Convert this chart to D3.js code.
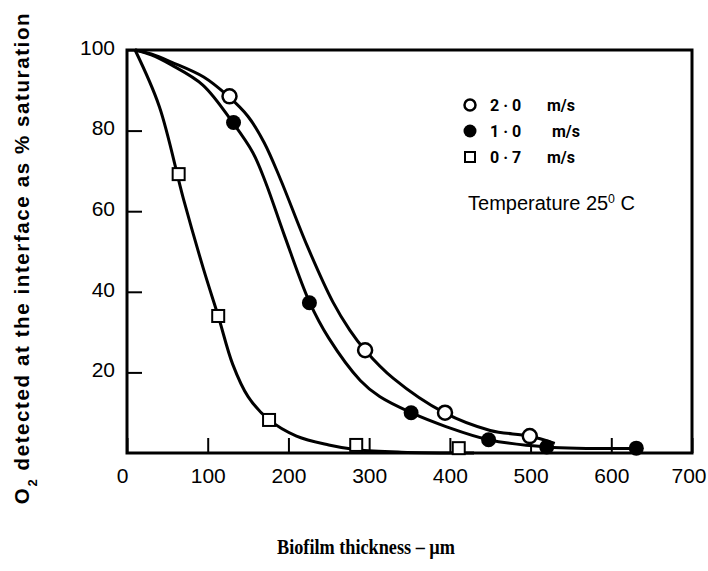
<!DOCTYPE html>
<html>
<head>
<meta charset="utf-8">
<script src="https://cdn.jsdelivr.net/npm/d3@7"></script>
<style>
  body { margin: 0; background: #fff; }
</style>
</head>
<body>
<div id="chart"></div>
<script>
// tick labels
const xTicks = [0, 100, 200, 300, 400, 500, 600, 700];
const yTicks = [20, 40, 60, 80, 100];
const speedLabels = ["2 · 0", "1 · 0", "0 · 7"];

// measured points [thickness µm, % saturation]
const pts20 = [[127, 88.5], [295, 25.5], [394, 10], [499, 4.2]];
const pts10 = [[132, 82], [226, 37.3], [352, 10], [448, 3.3], [520, 1.5], [631, 1.2]];
const pts07 = [[64, 69.2], [113, 34], [176, 8.2], [284, 2], [411, 1.2]];

// hand-drawn fitted curves
const fit20 = [[10, 100], [30, 99], [55, 97], [95, 93.3], [125, 88.6], [150, 83.5], [170, 77], [190, 68],
  [223, 51.5], [255, 37.5], [276, 30.5], [295, 25.5], [330, 18.5], [393, 10], [450, 5.6], [498, 4.2], [530, 2.4]];
const fit10 = [[10, 100], [30, 98.8], [55, 96.3], [94, 91.3], [131, 82], [156, 74.5], [172, 67], [195, 54],
  [226, 37.5], [250, 28.5], [289, 18], [313, 14], [352, 10], [396, 6.5], [448, 3.3], [520, 1.5], [631, 1.1]];
const fit07 = [[10, 100], [40, 86], [70, 63], [95, 45.5], [113, 34], [131, 22], [150, 14], [175, 8.4],
  [210, 4.2], [250, 2], [285, 0.8], [340, 0.2], [430, 0]];

const W = 708, H = 571;
const svg = d3.select("#chart").append("svg")
  .attr("width", W).attr("height", H)
  .style("font-family", "Roboto, 'Liberation Sans', sans-serif");

const x = d3.scaleLinear().domain([0, 700]).range([127, 692]);
const y = d3.scaleLinear().domain([0, 100]).range([453, 50]);

// frame
svg.append("rect")
  .attr("x", x(0)).attr("y", y(100))
  .attr("width", x(700) - x(0)).attr("height", y(0) - y(100))
  .attr("fill", "none").attr("stroke", "#000").attr("stroke-width", 3);

// y axis, ticks point inward
const yAxis = svg.append("g")
  .attr("transform", `translate(${x(0)},0)`)
  .call(d3.axisLeft(y).tickValues(yTicks).tickSizeInner(-15).tickSizeOuter(0).tickPadding(12));
yAxis.select(".domain").remove();
yAxis.selectAll(".tick line").attr("stroke-width", 2);
yAxis.selectAll(".tick text")
  .attr("font-size", 21).attr("font-weight", 500).attr("font-family", null)
  .attr("fill", "#000").attr("dy", "0.2em");

// x axis, ticks point upward
const xAxis = svg.append("g")
  .attr("transform", `translate(0,${y(0)})`)
  .call(d3.axisBottom(x).tickValues(xTicks).tickSizeInner(-15).tickSizeOuter(0).tickPadding(15));
xAxis.select(".domain").remove();
xAxis.selectAll(".tick line").attr("stroke-width", 2);
xAxis.selectAll(".tick text")
  .attr("font-size", 21).attr("font-weight", 500).attr("font-family", null).attr("fill", "#000")
  .attr("text-anchor", d => d === 700 ? "end" : "middle")
  .attr("dx", d => d === 700 ? 14 : (d === 0 ? -5 : 0));

// curves
const line = d3.line().x(d => x(d[0])).y(d => y(d[1])).curve(d3.curveCatmullRom.alpha(0.5));
[fit20, fit10, fit07].forEach(f => {
  svg.append("path").datum(f)
    .attr("d", line)
    .attr("fill", "none").attr("stroke", "#000").attr("stroke-width", 3);
});

// markers
svg.selectAll(".p07").data(pts07).enter().append("rect")
  .attr("x", d => x(d[0]) - 6).attr("y", d => y(d[1]) - 6)
  .attr("width", 12).attr("height", 12)
  .attr("fill", "#fff").attr("stroke", "#000").attr("stroke-width", 2);
svg.selectAll(".p20").data(pts20).enter().append("circle")
  .attr("cx", d => x(d[0])).attr("cy", d => y(d[1])).attr("r", 7)
  .attr("fill", "#fff").attr("stroke", "#000").attr("stroke-width", 2.5);
svg.selectAll(".p10").data(pts10).enter().append("circle")
  .attr("cx", d => x(d[0])).attr("cy", d => y(d[1])).attr("r", 7.5)
  .attr("fill", "#000");

// legend
const legend = svg.append("g").attr("font-weight", "bold").attr("font-size", 16);
speedLabels.forEach((lab, i) => {
  const ly = 105 + i * 26;
  if (i === 0) legend.append("circle").attr("cx", 470).attr("cy", ly).attr("r", 5.5)
    .attr("fill", "#fff").attr("stroke", "#000").attr("stroke-width", 2.5);
  if (i === 1) legend.append("circle").attr("cx", 470).attr("cy", ly).attr("r", 6.5).attr("fill", "#000");
  if (i === 2) legend.append("rect").attr("x", 465).attr("y", ly - 5).attr("width", 10).attr("height", 10)
    .attr("fill", "#fff").attr("stroke", "#000").attr("stroke-width", 2);
  legend.append("text").attr("x", 490).attr("y", ly).attr("dy", "0.35em").text(lab);
  legend.append("text").attr("x", i === 1 ? 552 : 547).attr("y", ly).attr("dy", "0.35em").text("m/s");
});

const temp = svg.append("text")
  .attr("x", 468).attr("y", 210)
  .attr("font-size", 19.5)
  .attr("font-family", "'Liberation Sans', 'DejaVu Sans', sans-serif")
  .attr("textLength", 167).attr("lengthAdjust", "spacingAndGlyphs");
temp.append("tspan").text("Temperature  25");
temp.append("tspan").attr("baseline-shift", "super").attr("font-size", 12).text("0");
temp.append("tspan").text(" C");

// axis titles
const yTitle = svg.append("text")
  .attr("transform", "translate(29,258) rotate(-90)")
  .attr("text-anchor", "middle")
  .attr("font-weight", "bold").attr("font-size", 20.5)
  .attr("letter-spacing", 1.6)
  .attr("font-family", "'Liberation Sans', sans-serif");
yTitle.append("tspan").text("O");
yTitle.append("tspan").attr("baseline-shift", "sub").attr("font-size", 13).text("2");
yTitle.append("tspan").text(" detected at the interface as % saturation");

svg.append("text")
  .attr("x", 366).attr("y", 554)
  .attr("text-anchor", "middle")
  .attr("font-weight", "bold").attr("font-size", 21)
  .attr("font-family", "'Liberation Serif', 'DejaVu Serif', serif")
  .attr("textLength", 178).attr("lengthAdjust", "spacingAndGlyphs")
  .text("Biofilm thickness – µm");
</script>
</body>
</html>
